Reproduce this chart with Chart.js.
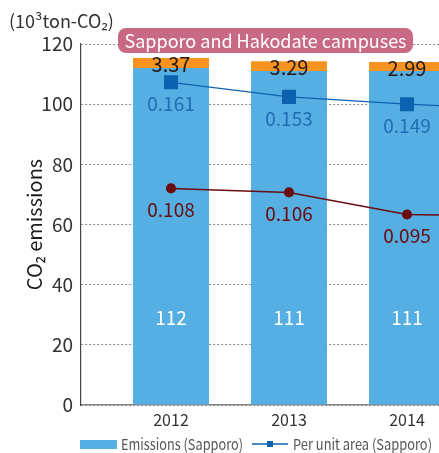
<!DOCTYPE html>
<html>
<head>
<meta charset="utf-8">
<script src="https://cdn.jsdelivr.net/npm/chart.js@4"></script>
<style>
    html, body { margin: 0; padding: 0; background: #fff; overflow: hidden; }
    #wrap { position: relative; width: 439px; height: 453px; }
</style>
</head>
<body>
<div id="wrap">
    <canvas id="co2Chart" width="439" height="453"></canvas>
</div>
<script>
// datos
var years = [2012, 2013, 2014, 2015];
var emissionsSapporo = [112, 111, 111];
var emissionsHakodate = [3.37, 3.29, 2.99];
var perAreaSapporo = [0.161, 0.153, 0.149, 0.146];
var perAreaHakodate = [0.108, 0.106, 0.095, 0.094];
var yTicks = [0, 20, 40, 60, 80, 100, 120];

var FONT = "'Noto Sans CJK JP', 'Noto Sans', sans-serif";
var BLUE_BAR = "#56afe2";
var ORANGE_BAR = "#f7931e";
var BLUE_LINE = "#0d62b0";
var RED_LINE = "#6a0c10";

function toPoints(vals) {
    return vals.map(function (v, i) {
        return { x: years[i], y: v };
    });
}

// texto estrecho (la leyenda original usa una fuente condensada)
function narrowText(ctx, text, x, y, width) {
    var k = Math.min(1, width / ctx.measureText(text).width);
    ctx.save();
    ctx.translate(x, y);
    ctx.scale(k, 1);
    ctx.fillText(text, 0, 0);
    ctx.restore();
}

// etiquetas de valores
var valueLabels = {
    id: "valueLabels",
    afterDatasetsDraw: function (chart) {
        var ctx = chart.ctx;
        var area = chart.chartArea;
        ctx.save();
        ctx.textAlign = "center";
        ctx.textBaseline = "middle";
        chart.data.datasets.forEach(function (ds, di) {
            var meta = chart.getDatasetMeta(di);
            meta.data.forEach(function (el, i) {
                if (el.x > area.right + 40) return;
                var v = ds.data[i].y;
                if (ds.type === "bar" && ds.stackPart === "base") {
                    ctx.fillStyle = "#ffffff";
                    ctx.font = "19px " + FONT;
                    ctx.fillText(String(v), el.x, area.bottom - 87);
                } else if (ds.type === "bar") {
                    ctx.fillStyle = "#231815";
                    ctx.font = "20px " + FONT;
                    ctx.fillText(v.toFixed(2), el.x, (el.y + el.base) / 2 + 1.5);
                } else {
                    if (el.x > area.right) return;
                    ctx.fillStyle = ds.labelColor;
                    ctx.font = "19px " + FONT;
                    ctx.fillText(v.toFixed(3), el.x, el.y + 21.5);
                }
            });
        });
        ctx.restore();
    },
    afterDraw: function (chart) {
        var ctx = chart.ctx;
        ctx.save();
        // unidad
        ctx.fillStyle = "#333";
        ctx.font = "18px " + FONT;
        ctx.textAlign = "left";
        ctx.textBaseline = "middle";
        ctx.fillText("(10³ton-CO₂)", 9, 21);

        // titulo en recuadro
        var title = "Sapporo and Hakodate campuses";
        ctx.font = "18px " + FONT;
        var w = 295;
        var cx = 265.5, cy = 40.5, h = 25;
        ctx.fillStyle = "#c96a84";
        ctx.beginPath();
        ctx.roundRect(cx - w / 2, cy - h / 2, w, h, 8);
        ctx.fill();
        ctx.fillStyle = "#ffffff";
        ctx.textAlign = "center";
        ctx.fillText(title, cx, cy + 1);

        // leyenda
        var ly = 444;
        ctx.font = "15px " + FONT;
        ctx.textAlign = "left";
        ctx.fillStyle = BLUE_BAR;
        ctx.fillRect(80, 440, 37, 9);
        ctx.fillStyle = "#555";
        narrowText(ctx, "Emissions (Sapporo)", 121, ly, 122);
        ctx.strokeStyle = BLUE_LINE;
        ctx.lineWidth = 1.3;
        ctx.beginPath();
        ctx.moveTo(252, ly);
        ctx.lineTo(288, ly);
        ctx.stroke();
        ctx.fillStyle = BLUE_LINE;
        ctx.fillRect(267, ly - 3, 6, 6);
        ctx.fillStyle = "#555";
        narrowText(ctx, "Per unit area (Sapporo)", 293, ly, 139);
        ctx.restore();
    },
};

var ctx = document.getElementById("co2Chart").getContext("2d");
var co2Chart = new Chart(ctx, {
    data: {
        datasets: [
            {
                type: "line",
                label: "Per unit area (Sapporo)",
                data: toPoints(perAreaSapporo),
                yAxisID: "ySapporo",
                borderColor: BLUE_LINE,
                backgroundColor: BLUE_LINE,
                borderWidth: 1.3,
                pointStyle: "rect",
                pointRadius: 9,
                labelColor: "#1f6db4",
                order: 0,
            },
            {
                type: "line",
                label: "Per unit area (Hakodate)",
                data: toPoints(perAreaHakodate),
                yAxisID: "yHakodate",
                borderColor: RED_LINE,
                backgroundColor: RED_LINE,
                borderWidth: 1.5,
                pointStyle: "circle",
                pointRadius: 4.3,
                labelColor: "#6a0c10",
                order: 0,
            },
            {
                type: "bar",
                label: "Emissions (Sapporo)",
                data: toPoints(emissionsSapporo),
                backgroundColor: BLUE_BAR,
                stackPart: "base",
                order: 1,
            },
            {
                type: "bar",
                label: "Emissions (Hakodate)",
                data: toPoints(emissionsHakodate),
                backgroundColor: ORANGE_BAR,
                stackPart: "top",
                order: 1,
            },
        ],
    },
    options: {
        responsive: false,
        animation: false,
        devicePixelRatio: 1,
        layout: {
            autoPadding: false,
            padding: { top: 44, right: 0, left: 0, bottom: 0 },
        },
        datasets: {
            bar: {
                categoryPercentage: 1,
                barPercentage: 0.644,
            },
        },
        plugins: {
            legend: { display: false },
            tooltip: { enabled: false },
        },
        scales: {
            x: {
                type: "linear",
                stacked: true,
                offset: false,
                min: 2011.2373,
                max: 2014.2712,
                afterBuildTicks: function (scale) {
                    scale.ticks = years
                        .filter(function (y) {
                            return y <= scale.max;
                        })
                        .map(function (y) {
                            return { value: y };
                        });
                },
                afterFit: function (scale) {
                    scale.height = 48;
                },
                grid: { display: false, drawTicks: false },
                border: { color: "#7d7d7d", width: 1.2 },
                ticks: {
                    color: "#333",
                    font: { family: FONT, size: 16 },
                    padding: 5,
                    callback: function (v) {
                        return String(v);
                    },
                },
            },
            y: {
                stacked: true,
                min: 0,
                max: 120,
                afterBuildTicks: function (scale) {
                    scale.ticks = yTicks.map(function (v) {
                        return { value: v };
                    });
                },
                afterFit: function (scale) {
                    scale.width = 81;
                },
                grid: {
                    color: "#8c8c8c",
                    lineWidth: 1,
                    drawTicks: false,
                },
                border: { color: "#444", width: 1.2, dash: [2, 2] },
                ticks: {
                    color: "#333",
                    font: { family: FONT, size: 19 },
                    padding: 8,
                },
                title: {
                    display: true,
                    text: "CO₂ emissions",
                    color: "#1a1a1a",
                    font: { family: FONT, size: 20 },
                    padding: { top: 22, bottom: 0 },
                },
            },
            ySapporo: {
                display: false,
                min: -0.016,
                max: 0.182,
            },
            yHakodate: {
                display: false,
                min: 0,
                max: 0.18,
            },
        },
    },
    plugins: [valueLabels],
});
</script>
</body>
</html>
